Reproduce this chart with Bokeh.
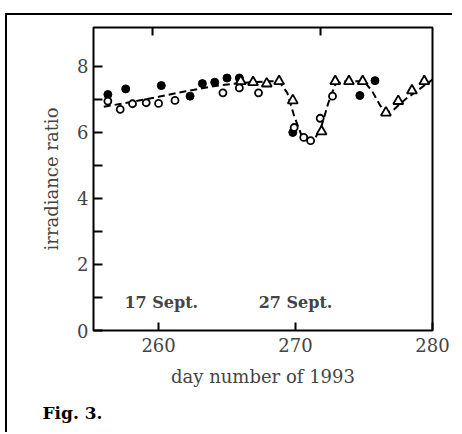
from bokeh.plotting import figure
from bokeh.models import Range1d, FixedTicker, LinearAxis, Label, Title
from bokeh.embed import file_html
from bokeh.resources import INLINE

# ---- data ----
filled_day = [256.3, 257.6, 260.2, 262.3, 263.2, 264.1, 265.0, 265.9, 269.8, 274.7, 275.8]
filled_val = [7.15, 7.32, 7.42, 7.10, 7.48, 7.52, 7.65, 7.65, 6.00, 7.12, 7.57]

open_day = [256.3, 257.2, 258.1, 259.1, 260.0, 261.2, 264.7, 265.9, 267.3, 269.9, 270.6, 271.1, 271.8, 272.7]
open_val = [6.95, 6.70, 6.87, 6.90, 6.88, 6.97, 7.20, 7.35, 7.20, 6.15, 5.85, 5.75, 6.43, 7.10]

tri_day = [266.0, 266.9, 267.9, 268.8, 269.8, 271.9, 272.9, 273.9, 274.9, 276.6, 277.5, 278.5, 279.4]
tri_val = [7.55, 7.52, 7.48, 7.55, 6.97, 6.03, 7.55, 7.55, 7.55, 6.60, 6.95, 7.27, 7.55]

fit_day = [256.0, 258.0, 260.0, 262.0, 264.0, 266.0, 268.0, 268.8, 269.4, 269.9, 270.4,
           270.9, 271.4, 271.9, 272.4, 272.9, 273.5, 275.0, 275.6, 276.2, 276.7, 277.2,
           278.0, 279.0, 280.0]
fit_val = [6.78, 6.92, 7.08, 7.25, 7.40, 7.50, 7.55, 7.55, 7.20, 6.50, 5.95,
           5.78, 5.80, 6.20, 6.90, 7.45, 7.55, 7.55, 7.25, 6.80, 6.60, 6.70,
           7.00, 7.30, 7.60]

x_ticks = [260, 270, 280]
y_ticks = [0, 2, 4, 6, 8]
y_minor = [1, 3, 5, 7]
top_ticks = [259.55, 271.8]
date_marks = [(260.2, "17 Sept."), (270.0, "27 Sept.")]

FONT = "DejaVu Serif"

p = figure(width=447, height=419, x_range=Range1d(255.25, 280.0), y_range=Range1d(0, 9.18),
           output_backend="svg", toolbar_location=None,
           min_border_left=86, min_border_right=22, min_border_top=12, min_border_bottom=104)
# outer frame of the printed figure: only its left and top edges fall inside the picture
p.styles = {"margin-left": "7px", "margin-top": "15px",
            "box-shadow": "-2px -2px 0px 0px black"}
p.grid.visible = False
p.background_fill_color = "white"
p.border_fill_color = "white"
p.outline_line_color = "black"
p.outline_line_width = 2
p.outline_line_alpha = 1.0

# x axis
xa = p.xaxis[0]
xa.ticker = FixedTicker(ticks=x_ticks)
xa.axis_line_color = None
xa.major_tick_in = 8
xa.major_tick_out = 0
xa.major_tick_line_width = 2
xa.minor_tick_line_color = None
xa.major_label_text_font = FONT
xa.major_label_text_font_size = "18px"
xa.major_label_standoff = 7
xa.axis_label = "day number of 1993"
xa.axis_label_text_font = FONT
xa.axis_label_text_font_size = "18px"
xa.axis_label_text_font_style = "normal"
xa.axis_label_standoff = 11

# y axis
ya = p.yaxis[0]
ya.ticker = FixedTicker(ticks=y_ticks, minor_ticks=y_minor)
ya.axis_line_color = None
ya.major_tick_in = 9
ya.major_tick_out = 0
ya.major_tick_line_width = 2
ya.minor_tick_in = 9
ya.minor_tick_out = 0
ya.minor_tick_line_width = 2
ya.minor_tick_line_color = "black"
ya.major_label_text_font = FONT
ya.major_label_text_font_size = "18px"
ya.major_label_standoff = 5
ya.axis_label = "irradiance ratio"
ya.axis_label_text_font = FONT
ya.axis_label_text_font_size = "18px"
ya.axis_label_text_font_style = "normal"
ya.axis_label_standoff = 12

# top ticks
ta = LinearAxis(ticker=FixedTicker(ticks=top_ticks), axis_line_color=None,
                major_tick_in=8, major_tick_out=0, major_tick_line_width=2,
                minor_tick_line_color=None, major_label_text_font_size="0px",
                major_label_text_color=None)
p.add_layout(ta, "above")

# fitted curve
p.line(fit_day, fit_val, line_color="black", line_width=2, line_dash="7 4")

# points
p.scatter(filled_day, filled_val, marker="circle", size=8, fill_color="black", line_color="black")
p.scatter(open_day, open_val, marker="circle", size=7, fill_color="white", line_color="black", line_width=1.8)
p.scatter(tri_day, tri_val, marker="triangle", size=10, fill_color="white", line_color="black", line_width=1.8)

# date labels
for xd, txt in date_marks:
    p.add_layout(Label(x=xd, y=0.85, text=txt, text_align="center", text_baseline="middle",
                       text_font=FONT, text_font_size="16px", text_font_style="bold"))

# caption
p.add_layout(Title(text="Fig. 3.", align="left", offset=-51, standoff=23, text_font=FONT,
                   text_font_size="17px", text_font_style="bold", text_color="black"), "below")

open("out.html", "w").write(file_html(p, INLINE))
